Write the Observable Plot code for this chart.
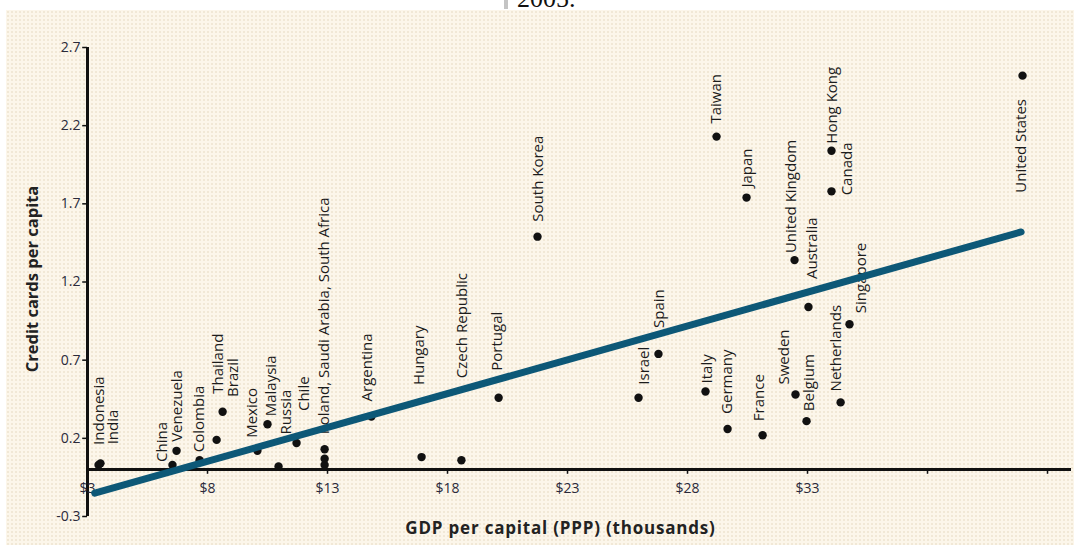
<!DOCTYPE html>
<html>
<head>
<meta charset="utf-8">
<script src="https://cdn.jsdelivr.net/npm/d3@7"></script>
<script src="https://cdn.jsdelivr.net/npm/@observablehq/plot@0.6"></script>
<style>
  html, body { margin: 0; padding: 0; background: #fff; }
  body { width: 1080px; height: 545px; overflow: hidden; position: relative; }
  #topstrip { position: absolute; left: 0; top: 0; width: 1080px; height: 10px; overflow: hidden; background: #fff; }
  #topstrip .cut { position: absolute; left: 517px; top: -16px; line-height: 1.15; font-family: "Liberation Serif", serif; font-size: 26px; color: #111; }
  #topstrip .bar { position: absolute; left: 504px; top: 0; width: 4px; height: 9px; background: #c4c4c4; }
  #chart {
    position: absolute; left: 6px; top: 10px; width: 1068px; height: 535px;
    background-color: #fcf6ea;
    background-image: radial-gradient(#f1e8d6 0.9px, transparent 1.1px);
    background-size: 4px 4px;
  }
</style>
</head>
<body>
<div id="topstrip"><div class="bar"></div><div class="cut">2005.</div></div>
<div id="chart"></div>
<script>
// ---- data ----
const countries = ["Indonesia","India","China","Venezuela","Colombia","Thailand","Brazil","Mexico","Malaysia","Russia","Chile","Poland","Saudi Arabia","South Africa","Argentina","Hungary","Czech Republic","Portugal","South Korea","Israel","Spain","Italy","Germany","France","Taiwan","Japan","United Kingdom","Australia","Hong Kong","Canada","Singapore","Netherlands","Sweden","Belgium","United States"];
const gdpPerCapita = [3.46,3.54,6.54,6.71,7.67,8.63,8.38,10.08,10.5,10.96,11.71,12.88,12.88,12.88,14.83,16.92,18.58,20.13,21.75,25.96,26.79,28.75,29.67,31.13,29.21,30.46,32.46,33.04,34.0,34.0,34.75,34.38,32.5,32.96,41.96];
const cardsPerCapita = [0.03,0.04,0.03,0.12,0.06,0.37,0.19,0.12,0.29,0.02,0.17,0.03,0.07,0.13,0.34,0.08,0.06,0.46,1.49,0.46,0.74,0.50,0.26,0.22,2.13,1.74,1.34,1.04,2.04,1.78,0.93,0.43,0.48,0.31,2.52];

// labels: text and the country whose point they annotate
const labelTexts = ["Indonesia","India","China","Venezuela","Colombia","Thailand","Brazil","Mexico","Malaysia","Russia","Chile","Poland, Saudi Arabia, South Africa","Argentina","Hungary","Czech Republic","Portugal","South Korea","Israel","Spain","Italy","Germany","France","Taiwan","Japan","United Kingdom","Australia","Hong Kong","Canada","Singapore","Netherlands","Sweden","Belgium","United States"];
const labelFor = ["Indonesia","India","China","Venezuela","Colombia","Thailand","Brazil","Mexico","Malaysia","Russia","Chile","South Africa","Argentina","Hungary","Czech Republic","Portugal","South Korea","Israel","Spain","Italy","Germany","France","Taiwan","Japan","United Kingdom","Australia","Hong Kong","Canada","Singapore","Netherlands","Sweden","Belgium","United States"];

// fitted trend line end points
const trendGdp = [3.3, 41.9];
const trendCards = [-0.15, 1.52];

// axes
const xTicks = [3, 8, 13, 18, 23, 28, 33, 38, 43];
const xTickLabels = ["$3","$8","$13","$18","$23","$28","$33","",""];
const yTicks = [-0.3, 0.2, 0.7, 1.2, 1.7, 2.2, 2.7];
const yTickLabels = ["-0.3","0.2","0.7","1.2","1.7","2.2","2.7"];
const xTitle = "GDP per capital (PPP) (thousands)";
const yTitle = "Credit cards per capita";

// ---- layout (label nudges in pixels, relative to their point) ----
const labelDx = [1,13,-10,1,0,-4,17,-5,4,8,8,0,-4,-2,1,-1,1,6,1,2,0,-3,0,1,-3,4,1,16,12,-4,-11,3,-1];
const labelDy = [-20,-19,-3,-9,-8,-18,-43,-13,-8,-32,-32,-15,-15,-72,-82,-27,-15,-13,-26,-8,-15,-14,-13,-10,-7,-28,-7,4,-11,-11,-10,-10,117];

// ---- build ----
const points = countries.map((c, i) => ({country: c, gdp: gdpPerCapita[i], cards: cardsPerCapita[i]}));
const byName = new Map(points.map(p => [p.country, p]));
const trend = trendGdp.map((g, i) => ({gdp: g, cards: trendCards[i]}));

const labelFont = "'Open Sans', 'Liberation Sans', sans-serif";
const ink = "#1c1c1c";

const labelMarks = labelTexts.map((t, i) => {
  const p = byName.get(labelFor[i]);
  return Plot.text([p], {
    x: "gdp", y: "cards", text: () => t,
    rotate: -90, textAnchor: "start",
    dx: labelDx[i], dy: labelDy[i],
    fontSize: 15, fontFamily: labelFont, fill: ink
  });
});

const chart = Plot.plot({
  width: 1068,
  height: 535,
  marginLeft: 81,
  marginRight: 3,
  marginTop: 37,
  marginBottom: 29,
  style: {background: "transparent", overflow: "visible", fontFamily: labelFont, color: ink},
  x: {domain: [3, 44], axis: null},
  y: {domain: [-0.3, 2.7], axis: null},
  marks: [
    // y axis
    Plot.ruleX([3], {y1: -0.3, y2: 2.7, stroke: "#111", strokeWidth: 3}),
    Plot.ruleY(yTicks, {y: d => d, x1: 3, x2: 2.8, stroke: "#111", strokeWidth: 1.5}),
    Plot.text(yTicks, {x: 3, y: d => d, text: (d, i) => yTickLabels[i], textAnchor: "end", dx: -7, fontSize: 14, fontFamily: labelFont, fill: "#2a2a3a"}),
    // x axis at zero
    Plot.ruleY([0], {x1: 3, x2: 44, stroke: "#111", strokeWidth: 3}),
    Plot.ruleX(xTicks, {x: d => d, y1: 0, y2: -0.03, stroke: "#111", strokeWidth: 1.5}),
    Plot.text(xTicks, {x: d => d, y: 0, text: (d, i) => xTickLabels[i], dy: 19, fontSize: 14, fontFamily: labelFont, fill: "#2a2a3a"}),
    // titles
    Plot.text([yTitle], {frameAnchor: "left", textAnchor: "middle", rotate: -90, dx: -55, dy: -3, text: d => d, fontSize: 16.5, fontWeight: "bold", fontFamily: labelFont, fill: "#222"}),
    Plot.text([xTitle], {frameAnchor: "bottom", textAnchor: "middle", dx: -19, dy: 17, text: d => d, fontSize: 17, fontWeight: "bold", fontFamily: labelFont, fill: "#222"}),
    // points and labels
    Plot.dot(points, {x: "gdp", y: "cards", r: 4.2, fill: "#111", stroke: "none"}),
    ...labelMarks,
    // trend line
    Plot.line(trend, {x: "gdp", y: "cards", stroke: "#0d5877", strokeWidth: 7, strokeLinecap: "round"})
  ]
});
chart.querySelectorAll("text").forEach(t => {
  if (t.textContent === xTitle) t.setAttribute("letter-spacing", "0.8");
});
document.getElementById("chart").appendChild(chart);
</script>
</body>
</html>
